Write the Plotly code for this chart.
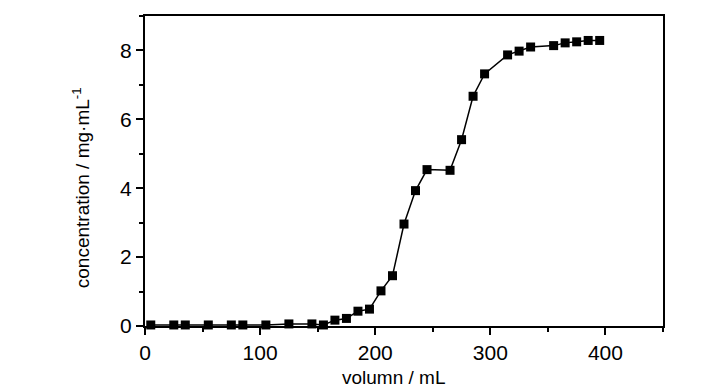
import plotly.graph_objects as go

volume = [5, 25, 35, 55, 75, 85, 105, 125, 145, 155, 165, 175, 185, 195, 205, 215,
          225, 235, 245, 265, 275, 285, 295, 315, 325, 335, 355, 365, 375, 385, 395]
concentration = [0.03, 0.03, 0.03, 0.03, 0.03, 0.03, 0.03, 0.06, 0.06, 0.03, 0.17, 0.22,
                 0.43, 0.49, 1.02, 1.46, 2.96, 3.93, 4.54, 4.52, 5.41, 6.67, 7.32, 7.87,
                 7.98, 8.10, 8.14, 8.22, 8.25, 8.29, 8.29]

x_ticks = [0, 100, 200, 300, 400]
y_ticks = [0, 2, 4, 6, 8]

FONT = "Liberation Sans, Arial, sans-serif"

fig = go.Figure()
fig.add_trace(go.Scatter(
    x=volume, y=concentration, mode="lines+markers",
    line=dict(color="black", width=1.5),
    marker=dict(symbol="square", size=9, color="black"),
    showlegend=False, cliponaxis=False,
))

axis_common = dict(
    showline=True, linecolor="black", linewidth=2, mirror=True,
    ticks="outside", tickcolor="black", tickwidth=1.5, ticklen=7,
    showgrid=False, zeroline=False, automargin=False,
    tickfont=dict(family=FONT, size=21, color="black"),
)

fig.update_xaxes(
    range=[0, 450], tickvals=x_ticks, ticktext=[str(v) for v in x_ticks],
    minor=dict(ticks="outside", tickvals=[50, 150, 250, 350, 450], ticklen=4,
               tickcolor="black", tickwidth=1.5),
    **axis_common,
)
fig.update_yaxes(
    range=[0, 9], tickvals=y_ticks, ticktext=[str(v) for v in y_ticks],
    minor=dict(ticks="outside", tickvals=[1, 3, 5, 7, 9], ticklen=4,
               tickcolor="black", tickwidth=1.5),
    **axis_common,
)

fig.add_annotation(
    text="volumn / mL", xref="paper", yref="paper",
    x=0.479, y=-0.165, xanchor="center", yanchor="middle", showarrow=False,
    font=dict(family=FONT, size=19, color="black"),
)
fig.add_annotation(
    text="concentration / mg·mL<sup>-1</sup>", xref="paper", yref="paper",
    x=-0.122, y=0.447, xanchor="center", yanchor="middle", showarrow=False,
    textangle=-90, font=dict(family=FONT, size=19, color="black"),
)

fig.update_layout(
    width=728, height=390,
    margin=dict(l=145, r=65, t=16, b=64),
    paper_bgcolor="white", plot_bgcolor="white",
)

fig.write_html("out.html", config={"displayModeBar": False},
               post_script="document.body.style.margin='0';")
